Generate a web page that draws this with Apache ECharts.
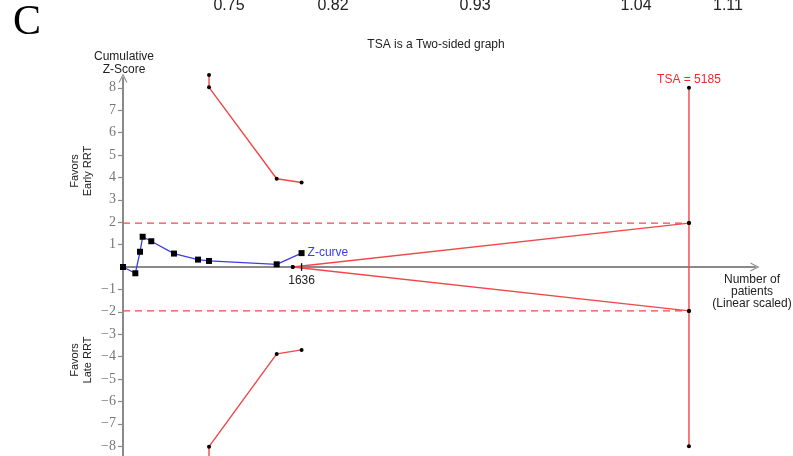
<!DOCTYPE html>
<html><head><meta charset="utf-8">
<script src="https://cdn.jsdelivr.net/npm/echarts@6/dist/echarts.min.js"></script>
<style>html,body{margin:0;padding:0;background:#fff}#c{width:793px;height:456px}</style>
</head><body><div id="c"></div>
<script>
// ---- data ----
const zCurveN = [0, 113, 156, 180, 259, 467, 687, 788, 1408, 1636];
const zCurveZ = [0, -0.28, 0.68, 1.35, 1.15, 0.60, 0.33, 0.27, 0.12, 0.62];
const boundaryN = [788, 788, 1408, 1636];
const upperBoundary = [8.57, 8.02, 3.94, 3.77];
const lowerBoundary = [-8.57, -8.02, -3.88, -3.70];
const tsaN = 5185;
const tsaZ = [8, 1.96, -1.96, -8];
const criticalZ = [1.96, -1.96];
const wedgeStartN = 1555;
const infoSizeN = 1636;
const yTickValues = [-8, -7, -6, -5, -4, -3, -2, -1, 1, 2, 3, 4, 5, 6, 7, 8];
const topLabels = ['0.75', '0.82', '0.93', '1.04', '1.11'];
const xMax = 5790, yLim = 8.4375;

// ---- layout/style ----
const topLabelX = [229, 333, 475, 636, 728];
const RED = '#f04848', BLUE = '#3c3ce6', GREY = '#8a8a8a';
const chev = 'path://M0,10 L5,0 L10,10 L8.6,10 L5,2.6 L1.4,10 Z';
const pts = (xs, ys) => xs.map((x, i) => [x, ys[i]]);

const series = [];
// dashed critical lines
criticalZ.forEach(z => series.push({
  type: 'line', data: [[0, z], [tsaN, z]], symbol: 'none', clip: false,
  lineStyle: { color: RED, width: 1.4, type: [7, 5] }, z: 2
}));
// wedge
criticalZ.forEach(z => series.push({
  type: 'line', data: [[wedgeStartN, 0], [tsaN, z]], symbol: 'circle', symbolSize: 4,
  itemStyle: { color: '#000' }, lineStyle: { color: RED, width: 1.4 }, clip: false, z: 3
}));
// TSA vertical
series.push({
  type: 'line', data: tsaZ.map(z => [tsaN, z]), symbol: 'circle', symbolSize: 4,
  itemStyle: { color: '#000' }, lineStyle: { color: RED, width: 1.4 }, clip: false, z: 3,
  label: { show: true, formatter: p => p.dataIndex === 0 ? 'TSA = ' + tsaN : '', position: 'top', distance: 0,
    color: '#ee2a2a', fontSize: 12, fontFamily: 'Liberation Sans' }
});
// boundaries
[upperBoundary, lowerBoundary].forEach(b => series.push({
  type: 'line', data: pts(boundaryN, b), symbol: 'circle', symbolSize: 4,
  itemStyle: { color: '#000' }, lineStyle: { color: RED, width: 1.4 }, clip: false, z: 3
}));
// information size tick
series.push({
  type: 'line', data: [[infoSizeN, 0.17], [infoSizeN, -0.17]], symbol: 'none', clip: false,
  lineStyle: { color: '#000', width: 1.3 }, z: 4,
  label: { show: false },
  endLabel: { show: true, formatter: String(infoSizeN), color: '#222', fontSize: 12, fontFamily: 'Liberation Sans',
    align: 'center', verticalAlign: 'top', distance: 0, offset: [0, 4] }
});
// Z-curve
series.push({
  type: 'line', data: pts(zCurveN, zCurveZ), symbol: 'rect', symbolSize: 6,
  itemStyle: { color: '#000' }, lineStyle: { color: BLUE, width: 1.3 }, clip: false, z: 5,
  label: { show: true, formatter: p => p.dataIndex === zCurveN.length - 1 ? 'Z-curve' : '', position: 'right', distance: 3,
    color: BLUE, fontSize: 12, fontFamily: 'Liberation Sans' }
});

const graphic = [
  { type: 'text', left: 13, top: 2, style: { text: 'C', fontSize: 42, fontFamily: 'Liberation Serif', fill: '#000' } },
  { type: 'text', x: 436, y: 45, style: { text: 'TSA is a Two-sided graph', fontSize: 12, fontFamily: 'Liberation Sans',
      fill: '#222', align: 'center', verticalAlign: 'middle' } },
  { type: 'text', x: 124, y: 63, style: { text: 'Cumulative\nZ-Score', fontSize: 12, lineHeight: 13, fontFamily: 'Liberation Sans',
      fill: '#222', align: 'center', verticalAlign: 'middle' } },
  { type: 'text', x: 81, y: 171, rotation: Math.PI / 2, style: { text: 'Favors\nEarly RRT', fontSize: 11, lineHeight: 13,
      fontFamily: 'Liberation Sans', fill: '#222', align: 'center', verticalAlign: 'middle' } },
  { type: 'text', x: 81, y: 360, rotation: Math.PI / 2, style: { text: 'Favors\nLate RRT', fontSize: 11, lineHeight: 13,
      fontFamily: 'Liberation Sans', fill: '#222', align: 'center', verticalAlign: 'middle' } },
  { type: 'text', x: 752, y: 292, style: { text: 'Number of\npatients\n(Linear scaled)', fontSize: 12, lineHeight: 12,
      fontFamily: 'Liberation Sans', fill: '#222', align: 'center', verticalAlign: 'middle' } }
].concat(topLabels.map((t, i) => ({ type: 'text', x: topLabelX[i], y: 6,
  style: { text: t, fontSize: 16, fontFamily: 'Liberation Sans', fill: '#222', align: 'center', verticalAlign: 'middle' } })));

const chart = echarts.init(document.getElementById('c'), null, { renderer: 'canvas' });
chart.setOption({
  animation: false,
  backgroundColor: '#fff',
  grid: { left: 123, right: 38, top: 78, bottom: 0, containLabel: false, outerBoundsMode: 'none' },
  xAxis: {
    type: 'value', min: 0, max: xMax,
    axisLine: { show: true, onZero: true, symbol: ['none', chev], symbolSize: [9, 9], lineStyle: { color: GREY, width: 2 } },
    axisTick: { show: false }, axisLabel: { show: false }, splitLine: { show: false }
  },
  yAxis: {
    type: 'value', min: -yLim, max: yLim,
    axisLine: { show: true, symbol: ['none', chev], symbolSize: [9, 9], lineStyle: { color: GREY, width: 2 } },
    axisTick: { show: true, length: 5, customValues: yTickValues, lineStyle: { color: GREY, width: 1.2 } },
    axisLabel: { show: true, customValues: yTickValues, margin: 7, color: '#777', fontSize: 14,
      fontFamily: 'Liberation Serif', formatter: v => (v < 0 ? '\u2212' + (-v) : String(v)) },
    splitLine: { show: false }
  },
  series: series,
  graphic: graphic
});
</script></body></html>
